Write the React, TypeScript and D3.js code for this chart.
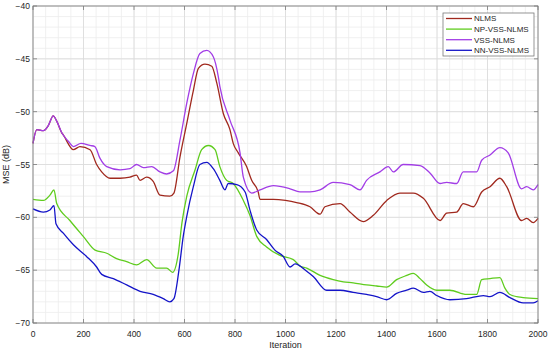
import React from "react";
import * as d3 from "d3";

const xTicks = [0, 200, 400, 600, 800, 1000, 1200, 1400, 1600, 1800, 2000];
const yTicks = [-40, -45, -50, -55, -60, -65, -70];

const nlms: [number, number][] = [
  [0, -53.0], [15, -51.7], [41, -51.8], [61, -51.3], [80, -50.4], [94, -50.9], [114, -52.0], [120, -52.2],
  [160, -53.6], [186, -53.3], [226, -53.6], [252, -55.0], [272, -55.7], [305, -56.3], [345, -56.3], [384, -56.2],
  [410, -56.0], [424, -56.5], [450, -56.2], [476, -56.6], [503, -57.9], [542, -58.0], [558, -57.7], [582, -54.3],
  [609, -51.1], [635, -48.0], [655, -45.9], [681, -45.5], [708, -45.7], [728, -47.3], [754, -50.2], [780, -51.7],
  [793, -53.0], [813, -53.9], [846, -55.2], [866, -56.5], [892, -57.6], [899, -58.3], [952, -58.3], [1000, -58.4],
  [1044, -58.6], [1097, -59.0], [1137, -59.7], [1156, -59.0], [1216, -58.7], [1255, -59.5], [1308, -60.4],
  [1348, -59.8], [1401, -58.4], [1453, -57.7], [1506, -57.7], [1546, -58.2], [1612, -60.3], [1638, -59.6],
  [1678, -59.5], [1704, -58.7], [1744, -59.0], [1777, -57.6], [1810, -57.1], [1849, -56.3], [1876, -57.1],
  [1935, -60.3], [1955, -60.1], [1981, -60.5], [2000, -60.1],
];

const npVss: [number, number][] = [
  [0, -58.3], [41, -58.4], [67, -57.9], [83, -57.4], [94, -58.7], [146, -60.3], [199, -61.8], [246, -63.1],
  [292, -63.4], [331, -63.9], [371, -64.2], [410, -64.5], [450, -64.0], [490, -64.8], [529, -64.8], [553, -65.2],
  [575, -63.5], [590, -60.5], [609, -58.0], [642, -55.5], [668, -53.6], [695, -53.2], [721, -53.6], [740, -55.2],
  [767, -56.5], [793, -56.8], [833, -58.4], [859, -59.8], [886, -61.8], [925, -62.8], [978, -63.6], [1031, -64.0],
  [1057, -64.6], [1084, -64.8], [1137, -65.5], [1189, -65.9], [1229, -66.1], [1268, -66.2], [1321, -66.4],
  [1361, -66.5], [1401, -66.6], [1440, -65.9], [1480, -65.5], [1506, -65.3], [1533, -65.8], [1559, -66.4],
  [1599, -66.9], [1651, -66.9], [1717, -67.3], [1757, -67.3], [1777, -65.9], [1810, -65.8], [1849, -65.7],
  [1869, -66.7], [1889, -67.3], [1941, -67.6], [2000, -67.7],
];

const vss: [number, number][] = [
  [0, -53.0], [15, -51.7], [41, -51.8], [61, -51.3], [80, -50.4], [94, -50.9], [114, -52.0], [140, -52.8],
  [160, -53.3], [190, -53.0], [226, -53.2], [245, -53.3], [265, -54.4], [292, -55.2], [345, -55.5], [384, -55.4],
  [410, -55.0], [437, -55.3], [470, -55.2], [503, -55.7], [529, -55.9], [556, -55.6], [582, -52.7], [609, -49.2],
  [635, -46.4], [661, -44.5], [688, -44.2], [714, -44.8], [734, -46.7], [740, -47.6], [780, -50.8], [820, -53.9],
  [833, -56.2], [866, -57.7], [899, -57.4], [952, -57.0], [1018, -57.3], [1057, -57.6], [1097, -57.6],
  [1137, -57.4], [1189, -56.7], [1255, -56.9], [1295, -57.4], [1321, -56.5], [1374, -55.7], [1407, -55.2],
  [1427, -55.7], [1466, -55.0], [1533, -55.1], [1572, -55.8], [1612, -56.8], [1638, -56.7], [1678, -56.8],
  [1704, -55.7], [1757, -55.7], [1777, -54.6], [1810, -54.1], [1849, -53.4], [1882, -53.9], [1935, -57.3],
  [1955, -57.1], [1981, -57.4], [2000, -56.9],
];

const nnVss: [number, number][] = [
  [0, -59.2], [41, -59.5], [67, -59.3], [83, -58.9], [91, -60.6], [120, -61.5], [160, -62.6], [212, -63.7],
  [252, -64.7], [272, -65.4], [318, -65.8], [371, -66.4], [424, -67.0], [476, -67.3], [516, -67.7], [542, -68.0],
  [558, -67.7], [578, -65.0], [595, -61.8], [609, -59.9], [635, -57.1], [661, -55.0], [688, -54.8], [714, -55.4],
  [740, -56.5], [760, -57.4], [773, -56.8], [807, -56.9], [840, -57.6], [859, -59.3], [886, -61.2], [925, -62.1],
  [958, -63.1], [991, -63.7], [1018, -64.7], [1038, -64.4], [1084, -65.1], [1110, -65.6], [1163, -66.9],
  [1216, -66.9], [1268, -67.1], [1321, -67.3], [1361, -67.5], [1401, -67.8], [1440, -67.2], [1480, -66.9],
  [1506, -66.7], [1546, -67.1], [1572, -67.0], [1599, -67.4], [1651, -67.8], [1717, -67.7], [1784, -67.4],
  [1810, -67.5], [1849, -67.1], [1889, -67.6], [1941, -68.1], [1981, -68.1], [2000, -67.9],
];

const seriesNames = ["NLMS", "NP-VSS-NLMS", "VSS-NLMS", "NN-VSS-NLMS"];
const seriesColors = ["#a0291e", "#5fcc1e", "#a23de6", "#1414c8"];
const seriesData = [nlms, npVss, vss, nnVss];
const drawOrder = [0, 2, 1, 3];

export default function App() {
  const W = 550, H = 352;
  const L = 33, R = 538, T = 6, B = 323;
  const x = d3.scaleLinear().domain([0, 2000]).range([L, R]);
  const y = d3.scaleLinear().domain([-70, -40]).range([B, T]);
  const line = d3.line<[number, number]>().x(d => x(d[0])).y(d => y(d[1])).curve(d3.curveMonotoneX);
  const minorX = d3.range(0, 2001, 50);
  const minorY = d3.range(-70, -39, 1);
  const font = "'Liberation Sans', Arial, Helvetica, sans-serif";
  const fmt = (v: number) => (v < 0 ? "\u2212" + Math.abs(v) : String(v));
  const tl = 4;

  return (
    <svg width={W} height={H} style={{ position: "absolute", left: 0, top: 0, background: "#fff" }} fontFamily={font}>
      <rect x={L} y={T} width={R - L} height={B - T} fill="#fff" />
      {minorX.map(v => (
        <line key={"mx" + v} x1={x(v)} x2={x(v)} y1={T} y2={B} stroke="#ececec" strokeWidth={0.8} />
      ))}
      {minorY.map(v => (
        <line key={"my" + v} x1={L} x2={R} y1={y(v)} y2={y(v)} stroke="#ececec" strokeWidth={0.8} />
      ))}
      {xTicks.map(v => (
        <line key={"gx" + v} x1={x(v)} x2={x(v)} y1={T} y2={B} stroke="#dadada" strokeWidth={0.8} />
      ))}
      {yTicks.map(v => (
        <line key={"gy" + v} x1={L} x2={R} y1={y(v)} y2={y(v)} stroke="#dadada" strokeWidth={0.8} />
      ))}
      {drawOrder.map(i => (
        <path key={seriesNames[i]} d={line(seriesData[i]) || ""} fill="none" stroke={seriesColors[i]} strokeWidth={1.3} strokeLinejoin="round" />
      ))}
      <rect x={L} y={T} width={R - L} height={B - T} fill="none" stroke="#7a7a7a" strokeWidth={0.8} />
      {xTicks.map(v => (
        <g key={"tx" + v}>
          <line x1={x(v)} x2={x(v)} y1={B} y2={B - tl} stroke="#7a7a7a" strokeWidth={0.8} />
          <line x1={x(v)} x2={x(v)} y1={T} y2={T + tl} stroke="#7a7a7a" strokeWidth={0.8} />
          <text x={x(v)} y={B + 14} textAnchor="middle" fontSize={8.5} fill="#262626">{fmt(v)}</text>
        </g>
      ))}
      {yTicks.map(v => (
        <g key={"ty" + v}>
          <line x1={L} x2={L + tl} y1={y(v)} y2={y(v)} stroke="#7a7a7a" strokeWidth={0.8} />
          <line x1={R} x2={R - tl} y1={y(v)} y2={y(v)} stroke="#7a7a7a" strokeWidth={0.8} />
          <text x={L - 3} y={y(v) + 3} textAnchor="end" fontSize={8.5} fill="#262626">{fmt(v)}</text>
        </g>
      ))}
      <text x={(L + R) / 2} y={348} textAnchor="middle" fontSize={9} fill="#262626">Iteration</text>
      <text transform={`translate(9,${(T + B) / 2}) rotate(-90)`} textAnchor="middle" fontSize={9} fill="#262626">MSE (dB)</text>
      <g>
        <rect x={443} y={13} width={91} height={43} fill="#fff" stroke="#7a7a7a" strokeWidth={0.8} />
        {seriesNames.map((n, i) => (
          <g key={"lg" + n}>
            <line x1={446} x2={472} y1={18.5 + i * 10.6} y2={18.5 + i * 10.6} stroke={seriesColors[i]} strokeWidth={1.3} />
            <text x={474} y={21.3 + i * 10.6} fontSize={8} fill="#262626">{n}</text>
          </g>
        ))}
      </g>
    </svg>
  );
}
